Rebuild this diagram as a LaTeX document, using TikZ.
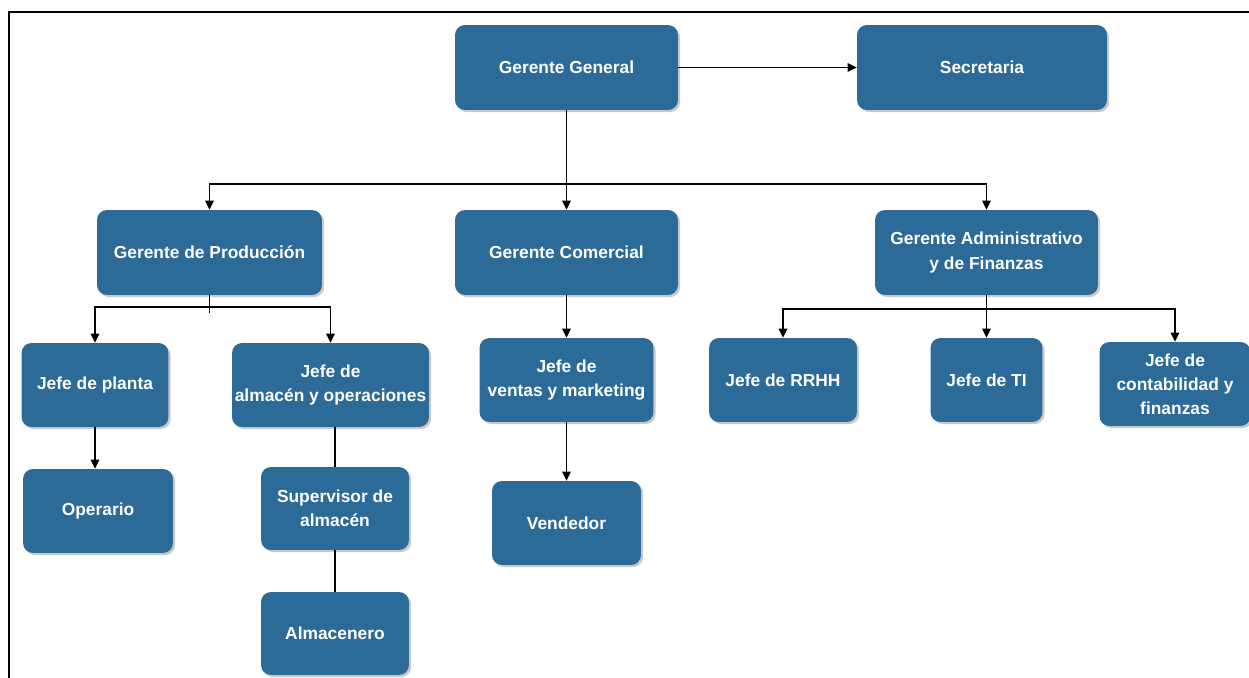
\documentclass[tikz,border=0pt]{standalone}
\usepackage{fontspec}
\setmainfont{Liberation Sans}
\usetikzlibrary{arrows.meta,shadows,calc}
\definecolor{boxblue}{RGB}{44,106,152}
\tikzset{
  orgbox/.style={draw=none, fill=boxblue, rounded corners=0.2cm, inner sep=0pt,
    align=center, text=white, font=\fontsize{9.9}{13.7}\selectfont\bfseries,
    drop shadow={shadow xshift=1.2pt, shadow yshift=-1.2pt, opacity=0.35, fill=black!60}},
  link/.style={line width=0.8pt, black},
  arr/.style={link, -{Triangle[length=1.8mm,width=1.7mm]}},
  frameline/.style={line width=1.1pt, black}
}
\begin{document}
\begin{tikzpicture}[x=0.02cm, y=-0.02cm]
\useasboundingbox (0,0) rectangle (1249,678);
\fill[white] (0,0) rectangle (1249,678);
\draw[frameline] (9,678) -- (9,12) -- (1249,12);

\node[orgbox, minimum width=4.46cm, minimum height=1.7cm] (gg) at (566.5,67.5) {Gerente General};
\node[orgbox, minimum width=5.0cm, minimum height=1.7cm] (sec) at (982,67.5) {Secretaria};
\node[orgbox, minimum width=4.5cm, minimum height=1.7cm] (gp) at (209.5,252.5) {Gerente de Producción};
\node[orgbox, minimum width=4.46cm, minimum height=1.7cm] (gc) at (566.5,252.5) {Gerente Comercial};
\node[orgbox, minimum width=4.46cm, minimum height=1.7cm] (ga) at (986.5,252.5) {Gerente Administrativo\\y de Finanzas};
\node[orgbox, minimum width=2.94cm, minimum height=1.68cm] (jp) at (95,385) {Jefe de planta};
\node[orgbox, minimum width=3.94cm, minimum height=1.68cm] (ja) at (330.5,385) {Jefe de\\almacén y operaciones};
\node[orgbox, minimum width=3.0cm, minimum height=1.68cm] (op) at (98,511) {Operario};
\node[orgbox, minimum width=2.96cm, minimum height=1.66cm] (sup) at (335,508.5) {Supervisor de\\almacén};
\node[orgbox, minimum width=2.96cm, minimum height=1.66cm] (alm) at (335,633.5) {Almacenero};
\node[orgbox, minimum width=3.48cm, minimum height=1.68cm] (jv) at (566.5,380) {Jefe de\\ventas y marketing};
\node[orgbox, minimum width=2.98cm, minimum height=1.68cm] (ven) at (566.5,523) {Vendedor};
\node[orgbox, minimum width=2.96cm, minimum height=1.68cm] (rrhh) at (783,380) {Jefe de RRHH};
\node[orgbox, minimum width=2.24cm, minimum height=1.68cm] (ti) at (986.5,380) {Jefe de TI};
\node[orgbox, minimum width=3.02cm, minimum height=1.68cm] (cont) at (1175,384) {Jefe de\\contabilidad y\\finanzas};

% top level
\draw[arr] (gg.east) -- (sec.west);
\coordinate (b1) at (566.5,184);
\draw[arr] (gg.south) -- (gc.north);
\draw[arr] (b1) -| (gp.north);
\draw[arr] (b1) -| (ga.north);

% producción
\coordinate (b2) at (209.5,307);
\coordinate (b2e) at (209.5,313);
\draw[link] (gp.south) -- (b2e);
\draw[arr] (b2) -| (jp.north);
\draw[arr] (b2) -| (ja.north);
\draw[arr] (jp.south) -- (jp.south |- op.north);
\draw[link] (sup.north |- ja.south) -- (sup.north);
\draw[link] (sup.south) -- (alm.north);

% comercial
\draw[arr] (gc.south) -- (jv.north);
\draw[arr] (jv.south) -- (ven.north);

% administrativo
\coordinate (b3) at (986.5,309);
\draw[arr] (ga.south) -- (ti.north);
\draw[arr] (b3) -| (rrhh.north);
\draw[arr] (b3) -| (cont.north);
\end{tikzpicture}
\end{document}
